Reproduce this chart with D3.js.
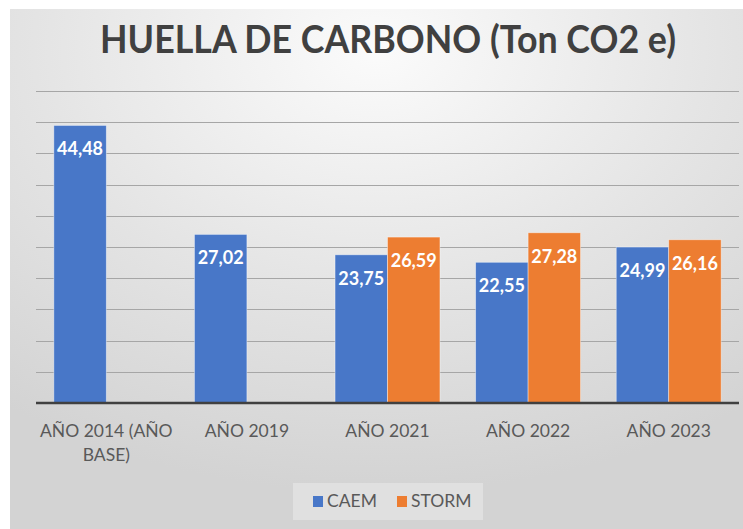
<!DOCTYPE html>
<html>
<head>
<meta charset="utf-8">
<script src="https://cdn.jsdelivr.net/npm/d3@7"></script>
<style>
  body { margin: 0; background: #ffffff; }
  svg { display: block; }
</style>
</head>
<body>
<svg></svg>
<script>
// chart data
var categories = ["AÑO 2014 (AÑO BASE)", "AÑO 2019", "AÑO 2021", "AÑO 2022", "AÑO 2023"];
var seriesNames = ["CAEM", "STORM"];
var caem = [44.48, 27.02, 23.75, 22.55, 24.99];
var storm = [null, null, 26.59, 27.28, 26.16];
var gridTicks = [0, 5, 10, 15, 20, 25, 30, 35, 40, 45, 50];
var chartTitle = "HUELLA DE CARBONO (Ton CO2 e)";

var width = 743;
var height = 529;
var colors = { CAEM: "#4877c8", STORM: "#ed7d31" };
var font = 'Lato, "Open Sans", sans-serif';

var svg = d3.select('svg')
            .attr('width', width)
            .attr('height', height);

// soft grey background, lighter at the top centre
var defs = svg.append("defs");
var grad = defs.append("radialGradient")
               .attr("id", "bg")
               .attr("cx", "50%").attr("cy", "8%")
               .attr("r", "85%");
grad.append("stop").attr("offset", "0%").attr("stop-color", "#fbfbfb");
grad.append("stop").attr("offset", "55%").attr("stop-color", "#e4e4e4");
grad.append("stop").attr("offset", "100%").attr("stop-color", "#d3d3d3");

svg.append("rect")
   .attr("x", 10).attr("y", 9)
   .attr("width", width - 10).attr("height", height - 9)
   .attr("fill", "url(#bg)");

var plot = { left: 36, right: 739, top: 91, bottom: 403 };

var x0 = d3.scaleBand()
           .domain(categories)
           .range([plot.left, plot.right]);

var x1 = d3.scaleBand()
           .domain(seriesNames)
           .range([0, x0.bandwidth()])
           .paddingOuter(0.34);

var yScale = d3.scaleLinear()
               .domain([0, 50])
               .range([plot.bottom, plot.top]);

// gridlines
svg.append("g")
   .selectAll("line")
   .data(gridTicks.filter(d => d > 0))
   .enter()
     .append("line")
     .attr("x1", plot.left)
     .attr("x2", plot.right)
     .attr("y1", d => Math.round(yScale(d)) + 0.5)
     .attr("y2", d => Math.round(yScale(d)) + 0.5)
     .attr("stroke", "#a6a6a6")
     .attr("stroke-width", 1);

var rows = categories.map((c, i) => ({ cat: c, CAEM: caem[i], STORM: storm[i] }));

var groups = svg.append("g")
  .selectAll("g")
  .data(rows)
  .enter()
    .append("g")
    .attr("transform", d => `translate(${x0(d.cat)},0)`);

var bars = groups.selectAll("g")
  .data(d => seriesNames.map(s => ({ key: s, value: d[s] })).filter(v => v.value != null))
  .enter()
    .append("g");

bars.append("rect")
    .attr("x", d => x1(d.key))
    .attr("y", d => yScale(d.value))
    .attr("width", x1.bandwidth())
    .attr("height", d => yScale(0) - yScale(d.value))
    .attr("fill", d => colors[d.key])
    .attr("stroke", "#ffffff")
    .attr("stroke-opacity", 0.5)
    .attr("stroke-width", 0.8);

// value labels inside the top of each bar
bars.append("text")
    .attr("x", d => x1(d.key) + x1.bandwidth() / 2)
    .attr("y", d => yScale(d.value) + 30)
    .attr("text-anchor", "middle")
    .style("font-family", font)
    .style("font-weight", "bold")
    .style("font-size", "18px")
    .attr("fill", "#ffffff")
    .text(d => d.value.toFixed(2).replace(".", ","));

// x axis line
svg.append("line")
   .attr("x1", plot.left)
   .attr("x2", plot.right)
   .attr("y1", yScale(0))
   .attr("y2", yScale(0))
   .attr("stroke", "#404040")
   .attr("stroke-width", 2.5);

// category labels, wrapped to the band width
var catLabels = svg.append("g")
  .selectAll("text")
  .data(categories)
  .enter()
    .append("text")
    .attr("x", d => x0(d) + x0.bandwidth() / 2)
    .attr("y", 437)
    .attr("text-anchor", "middle")
    .style("font-family", font)
    .style("font-size", "17.5px")
    .attr("fill", "#595959");

catLabels.each(function(d) {
  var el = d3.select(this);
  var words = d.split(" ");
  var line = [];
  var tspan = el.append("tspan").attr("x", el.attr("x")).attr("dy", 0);
  words.forEach(function(w) {
    line.push(w);
    tspan.text(line.join(" "));
    if (tspan.node().getComputedTextLength() > x0.bandwidth() && line.length > 1) {
      line.pop();
      tspan.text(line.join(" "));
      line = [w];
      tspan = el.append("tspan").attr("x", el.attr("x")).attr("dy", 24).text(w);
    }
  });
});

// title
svg.append("text")
   .attr("x", 388)
   .attr("y", 53)
   .attr("text-anchor", "middle")
   .attr("textLength", 576)
   .attr("lengthAdjust", "spacingAndGlyphs")
   .style("font-family", font)
   .style("font-weight", "bold")
   .style("font-size", "38px")
   .attr("fill", "#404040")
   .text(chartTitle);

// legend
var legend = svg.append("g");
legend.append("rect")
      .attr("x", 293).attr("y", 483)
      .attr("width", 190).attr("height", 37)
      .attr("fill", "#e6e6e6")
      .attr("fill-opacity", 0.7);

var legendX = [313, 397];
var items = legend.selectAll("g.item")
  .data(seriesNames)
  .enter()
    .append("g")
    .attr("class", "item")
    .attr("transform", (d, i) => `translate(${legendX[i]},0)`);

items.append("rect")
     .attr("x", 0).attr("y", 496)
     .attr("width", 10).attr("height", 11)
     .attr("fill", d => colors[d]);

items.append("text")
     .attr("x", 14).attr("y", 507)
     .style("font-family", font)
     .style("font-size", "17.5px")
     .attr("fill", "#595959")
     .text(d => d);
</script>
</body>
</html>
